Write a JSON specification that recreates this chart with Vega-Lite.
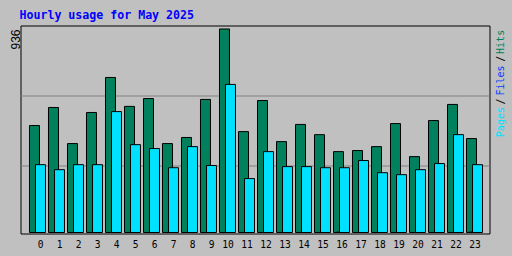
{
  "$schema": "https://vega.github.io/schema/vega-lite/v6.json",
  "width": 469,
  "height": 208,
  "autosize": "none",
  "padding": {"left": 20.5, "top": 25.5, "right": 22.5, "bottom": 22.5},
  "background": "#c0c0c0",
  "config": {"view": {"stroke": "#000000", "strokeWidth": 1}},
  "title": {
    "text": "Hourly usage for May 2025",
    "anchor": "start",
    "frame": "group",
    "font": "DejaVu Sans Mono",
    "fontWeight": "bold",
    "fontSize": 11.6,
    "color": "#0000ff",
    "baseline": "alphabetic",
    "offset": -5.5,
    "dx": -1
  },
  "data": {
    "values": [
      {"hour": 0, "hits": 492, "files": 0, "pages": 312},
      {"hour": 1, "hits": 575, "files": 0, "pages": 289},
      {"hour": 2, "hits": 409, "files": 0, "pages": 312},
      {"hour": 3, "hits": 552, "files": 0, "pages": 312},
      {"hour": 4, "hits": 713, "files": 0, "pages": 556},
      {"hour": 5, "hits": 580, "files": 0, "pages": 404},
      {"hour": 6, "hits": 616, "files": 0, "pages": 386},
      {"hour": 7, "hits": 409, "files": 0, "pages": 298},
      {"hour": 8, "hits": 437, "files": 0, "pages": 395},
      {"hour": 9, "hits": 612, "files": 0, "pages": 308},
      {"hour": 10, "hits": 936, "files": 0, "pages": 681},
      {"hour": 11, "hits": 464, "files": 0, "pages": 248},
      {"hour": 12, "hits": 607, "files": 0, "pages": 372},
      {"hour": 13, "hits": 418, "files": 0, "pages": 303},
      {"hour": 14, "hits": 497, "files": 0, "pages": 303},
      {"hour": 15, "hits": 450, "files": 0, "pages": 298},
      {"hour": 16, "hits": 372, "files": 2, "pages": 298},
      {"hour": 17, "hits": 377, "files": 0, "pages": 331},
      {"hour": 18, "hits": 395, "files": 0, "pages": 275},
      {"hour": 19, "hits": 501, "files": 0, "pages": 266},
      {"hour": 20, "hits": 349, "files": 0, "pages": 289},
      {"hour": 21, "hits": 515, "files": 0, "pages": 317},
      {"hour": 22, "hits": 589, "files": 0, "pages": 450},
      {"hour": 23, "hits": 432, "files": 2, "pages": 312}
    ]
  },
  "encoding": {
    "x": {
      "field": "hour",
      "type": "ordinal",
      "sort": "ascending",
      "scale": {"paddingInner": 0, "paddingOuter": 0.3421},
      "axis": {
        "title": null,
        "labelAngle": 0,
        "ticks": false,
        "tickSize": 0,
        "domain": false,
        "grid": false,
        "labelFont": "DejaVu Sans Mono",
        "labelFontSize": 9.6,
        "labelColor": "#000000",
        "labelPadding": 6,
        "labelBaseline": "top",
        "labelOffset": {"condition": {"test": "datum.value >= 10", "value": 1.5}, "value": 4.2}
      }
    }
  },
  "layer": [
    {
      "mark": {"type": "bar", "width": 10, "xOffset": -2, "fill": "#00805c", "stroke": "#000000", "strokeWidth": 1},
      "encoding": {
        "y": {
          "field": "hits",
          "type": "quantitative",
          "scale": {"domain": [-4.6, 952], "nice": false},
          "axis": {
            "orient": "left",
            "values": [310, 632, 936],
            "title": null,
            "ticks": false,
            "tickSize": 0,
            "domain": false,
            "grid": true,
            "gridColor": "#808080",
            "gridWidth": 1,
            "gridOpacity": {"condition": {"test": "datum.value == 936", "value": 0}, "value": 1},
            "labelExpr": "datum.value == 936 ? '936' : ''",
            "labelAngle": -90,
            "labelAlign": "right",
            "labelBaseline": "alphabetic",
            "labelPadding": 1.5,
            "labelFont": "Liberation Sans",
            "labelFontSize": 12,
            "labelColor": "#000000",
            "labelFlush": false,
            "labelOverlap": false
          }
        }
      }
    },
    {
      "transform": [{"filter": "datum.files > 0"}],
      "mark": {"type": "bar", "width": 10, "xOffset": 1, "fill": "#0040ff", "stroke": "#000000", "strokeWidth": 1},
      "encoding": {
        "y": {"field": "files", "type": "quantitative", "axis": null}
      }
    },
    {
      "mark": {"type": "bar", "width": 10, "xOffset": 4, "fill": "#00e0ff", "stroke": "#000000", "strokeWidth": 1},
      "encoding": {
        "y": {
          "field": "pages",
          "type": "quantitative",
          "axis": {
            "orient": "right",
            "values": [510, 605, 701, 801, 879],
            "title": null,
            "ticks": false,
            "tickSize": 0,
            "domain": false,
            "grid": false,
            "labelExpr": "datum.value == 879 ? 'Hits' : datum.value == 701 ? 'Files' : datum.value == 510 ? 'Pages' : '/'",
            "labelAngle": -90,
            "labelAlign": "center",
            "labelBaseline": "top",
            "labelPadding": 6.4,
            "labelFont": "DejaVu Sans Mono",
            "labelFontSize": 10,
            "labelColor": {
              "condition": [
                {"test": "datum.value == 879", "value": "#00805c"},
                {"test": "datum.value == 701", "value": "#0040ff"},
                {"test": "datum.value == 510", "value": "#00e0ff"}
              ],
              "value": "#000000"
            },
            "labelFlush": false,
            "labelOverlap": false
          }
        }
      }
    }
  ],
  "resolve": {"axis": {"y": "independent"}}
}
